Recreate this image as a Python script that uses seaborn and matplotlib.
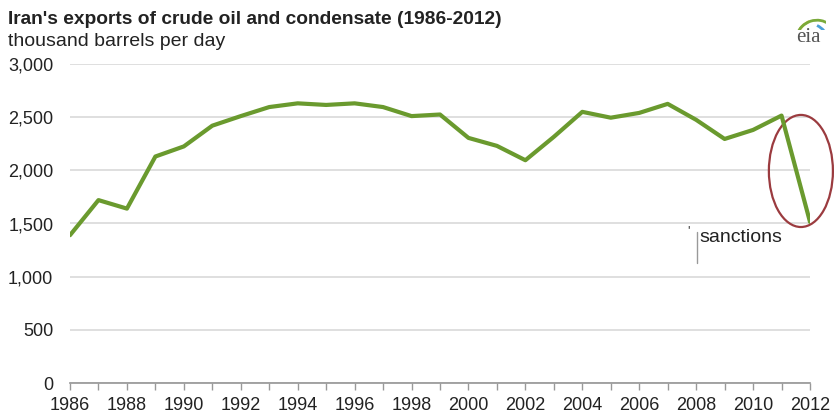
import matplotlib
matplotlib.use("Agg")
import matplotlib.pyplot as plt
import seaborn as sns
import pandas as pd
from matplotlib.patches import Ellipse, Arc

years = list(range(1986, 2013))
exports = [1390, 1720, 1640, 2130, 2225, 2420, 2510, 2595, 2630, 2615, 2630, 2595,
           2510, 2525, 2305, 2230, 2095, 2315, 2550, 2495, 2540, 2625, 2475, 2295,
           2380, 2515, 1515]
yticks = [0, 500, 1000, 1500, 2000, 2500, 3000]
xtick_years = list(range(1986, 2013, 2))

sns.set_theme(style="white")
plt.rcParams['font.family'] = ['Liberation Sans', 'DejaVu Sans']

df = pd.DataFrame({"year": years, "exports": exports})

fig = plt.figure(figsize=(8.34, 4.15), dpi=100)
ax = fig.add_axes([70/834, 32/415, 740/834, 319/415])
sns.lineplot(data=df, x="year", y="exports", ax=ax, color="#6a9a2e", linewidth=3.0)

ax.set_xlim(1986, 2012)
ax.set_ylim(0, 3000)
ax.set_xlabel("")
ax.set_ylabel("")
ax.set_yticks(yticks)
ax.set_yticklabels([f"{v:,}" for v in yticks], fontsize=13, color="#222222")
ax.set_xticks(xtick_years)
ax.set_xticklabels([str(y) for y in xtick_years], fontsize=13, color="#222222")
ax.set_xticks(years, minor=True)
ax.tick_params(axis="x", which="both", direction="out", length=5, color="#999999", width=1, bottom=True, pad=5)
ax.tick_params(axis="y", length=0, pad=12)
for s in ["top", "right", "left"]:
    ax.spines[s].set_visible(False)
ax.spines["bottom"].set_color("#999999")
ax.yaxis.grid(True, color="#d9d9d9", linewidth=1.2)
ax.xaxis.grid(False)
ax.set_axisbelow(True)

ell = Ellipse((2011.68, 1994), 2.25, 1054, fill=False, edgecolor="#9b3b3f", linewidth=1.6, clip_on=False)
ax.add_patch(ell)

ax.text(2008.1, 1373, "sanctions", fontsize=14, ha="left", va="center", color="#222222")
ax.plot([2008.02, 2008.02], [1420, 1130], color="#999999", linewidth=1)
ax.text(2007.72, 1430, "'", fontsize=9, ha="center", va="center", color="#333333")

fig.text(8/834, 1 - 19/415, "Iran's exports of crude oil and condensate (1986-2012)",
         fontsize=13.8, fontweight="bold", ha="left", va="center", color="#222222")
fig.text(8/834, 1 - 41/415, "thousand barrels per day",
         fontsize=14, ha="left", va="center", color="#222222")

# eia logo
fig.text(808/834, 1 - 38/415, "eia", fontsize=15, family=["Liberation Serif", "DejaVu Serif"],
         ha="center", va="center", color="#555555")
lax = fig.add_axes([790/834, 1 - 30/415, 36/834, 14/415])
lax.set_xlim(0, 1); lax.set_ylim(0, 1); lax.axis("off")
lax.add_patch(Arc((0.75, -0.6), 1.1, 2.6, theta1=100, theta2=150, color="#f2c94c", linewidth=2))
lax.add_patch(Arc((0.75, -0.9), 1.2, 3.2, theta1=75, theta2=135, color="#7aaa3a", linewidth=2))
lax.add_patch(Arc((0.45, -0.8), 1.2, 2.6, theta1=20, theta2=75, color="#4aa0d8", linewidth=2))

fig.savefig("out.png", dpi=100)
